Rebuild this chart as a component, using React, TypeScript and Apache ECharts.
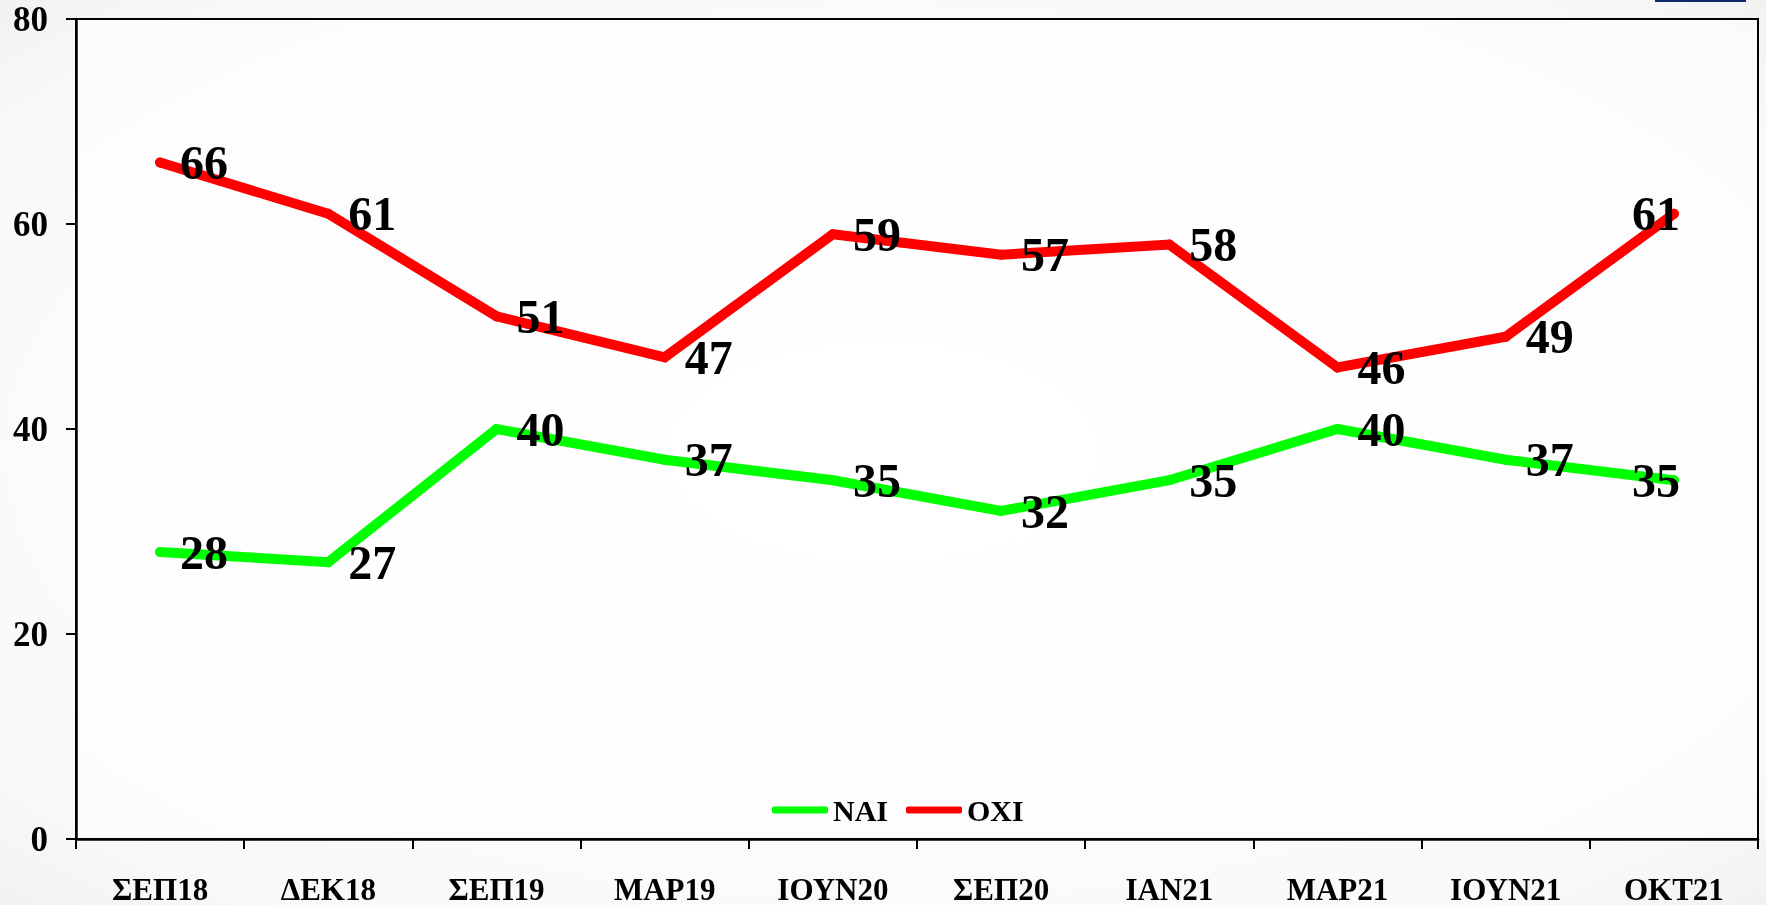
import React, { useEffect, useRef } from "react";
import * as echarts from "echarts";

const categories = ["ΣΕΠ18", "ΔΕΚ18", "ΣΕΠ19", "ΜΑΡ19", "ΙΟΥΝ20", "ΣΕΠ20", "ΙΑΝ21", "ΜΑΡ21", "ΙΟΥΝ21", "ΟΚΤ21"];
const naiValues = [28, 27, 40, 37, 35, 32, 35, 40, 37, 35];
const oxiValues = [66, 61, 51, 47, 59, 57, 58, 46, 49, 61];
const seriesNames = ["ΝΑΙ", "ΟΧΙ"];

const FONT = "'Liberation Serif', 'Times New Roman', serif";

function withLastLabelLeft(values: number[]) {
  return values.map((v, i) =>
    i === values.length - 1
      ? { value: v, label: { position: "left", distance: -11 } }
      : v
  );
}

export default function App() {
  const ref = useRef<HTMLDivElement>(null);

  useEffect(() => {
    if (!ref.current) return;
    const chart = echarts.init(ref.current, null, { renderer: "svg" });
    const labelStyle = {
      show: true,
      position: "right",
      distance: 15,
      color: "#000",
      fontFamily: FONT,
      fontWeight: "bold",
      fontSize: 48,
    };
    chart.setOption({
      animation: false,
      backgroundColor: {
        type: "radial",
        x: 0.5,
        y: 0.5,
        r: 1.1,
        colorStops: [
          { offset: 0, color: "#ffffff" },
          { offset: 0.55, color: "#f9f9f9" },
          { offset: 1, color: "#d6d6d6" },
        ],
      },
      graphic: [
        {
          type: "rect",
          shape: { x: 1655, y: 0, width: 91, height: 2 },
          style: { fill: "#0b2a6b" },
        },
      ],
      grid: {
        left: 76,
        right: 8,
        top: 19,
        bottom: 60,
        show: true,
        borderColor: "#000",
        borderWidth: 2,
        backgroundColor: "rgba(255,255,255,0.55)",
      },
      legend: {
        data: seriesNames,
        left: 772,
        top: 795,
        padding: 0,
        itemGap: 18,
        itemWidth: 56,
        itemHeight: 7,
        icon: "roundRect",
        textStyle: {
          color: "#000",
          fontFamily: FONT,
          fontWeight: "bold",
          fontSize: 30,
        },
      },
      xAxis: {
        type: "category",
        data: categories,
        boundaryGap: true,
        axisLine: { lineStyle: { color: "#000", width: 2.5 } },
        axisTick: { show: true, length: 10, lineStyle: { color: "#000", width: 2 } },
        axisLabel: {
          color: "#000",
          fontFamily: FONT,
          fontWeight: "bold",
          fontSize: 31,
          margin: 35,
          interval: 0,
        },
        splitLine: { show: false },
      },
      yAxis: {
        type: "value",
        min: 0,
        max: 80,
        interval: 20,
        axisLine: { show: true, lineStyle: { color: "#000", width: 2.5 } },
        axisTick: { show: true, length: 10, lineStyle: { color: "#000", width: 2 } },
        axisLabel: {
          color: "#000",
          fontFamily: FONT,
          fontWeight: "bold",
          fontSize: 35,
          margin: 28,
        },
        splitLine: { show: false },
      },
      series: [
        {
          name: seriesNames[0],
          type: "line",
          data: withLastLabelLeft(naiValues),
          color: "#00ff00",
          symbol: "circle",
          symbolSize: 10,
          showSymbol: true,
          lineStyle: { width: 10, color: "#00ff00", cap: "round", join: "miter" },
          itemStyle: { color: "#00ff00" },
          label: labelStyle,
          z: 2,
        },
        {
          name: seriesNames[1],
          type: "line",
          data: withLastLabelLeft(oxiValues),
          color: "#ff0000",
          symbol: "circle",
          symbolSize: 10,
          showSymbol: true,
          lineStyle: { width: 10, color: "#ff0000", cap: "round", join: "miter" },
          itemStyle: { color: "#ff0000" },
          label: labelStyle,
          z: 2,
        },
      ],
    });
    return () => chart.dispose();
  }, []);

  return (
    <div
      ref={ref}
      style={{ position: "fixed", left: 0, top: 0, width: 1766, height: 905 }}
    />
  );
}
